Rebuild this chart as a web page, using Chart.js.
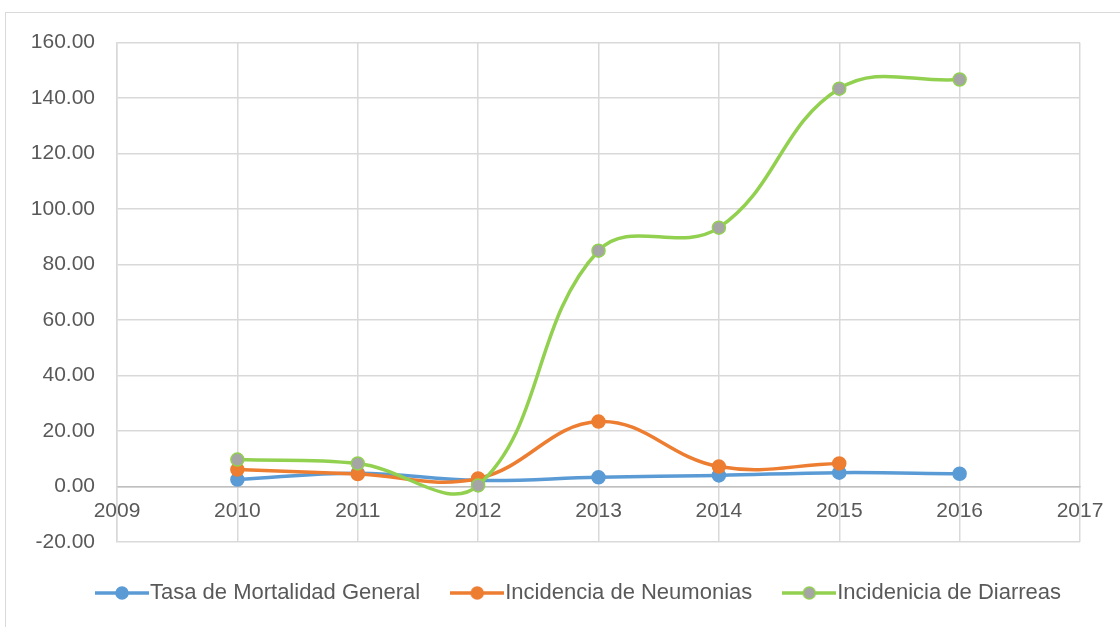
<!DOCTYPE html>
<html>
<head>
<meta charset="utf-8">
<script src="https://cdn.jsdelivr.net/npm/chart.js@4.4.0/dist/chart.umd.min.js"></script>
<style>
  html, body { margin: 0; padding: 0; background: #fff; }
  #wrap {
    position: absolute; left: 5px; top: 12px; width: 1115px; height: 615px;
    border-left: 1px solid #d9d9d9; border-top: 1px solid #d9d9d9;
  }
  #myChart { position: absolute; left: 0; top: -5px; }
</style>
</head>
<body>
<div id="wrap"><canvas id="myChart" width="1114" height="619"></canvas></div>
<script>
// years on the x axis
var anni = [2010, 2011, 2012, 2013, 2014, 2015, 2016];
// Tasa de Mortalidad General
var mortalidad = [2.5, 4.8, 2.2, 3.3, 4.0, 5.0, 4.6];
// Incidencia de Neumonias (no 2016 value)
var neumonias = [6.1, 4.5, 2.9, 23.4, 7.2, 8.3];
// Incidenicia de Diarreas
var diarreas = [9.7, 8.3, 0.4, 85.0, 93.3, 143.4, 146.7];

var nomi = ["Tasa de Mortalidad General", "Incidencia de Neumonias", "Incidenicia de Diarreas"];

function iconaLegenda(line, fill) {
  var c = document.createElement("canvas");
  c.width = 54; c.height = 16;
  var g = c.getContext("2d");
  g.strokeStyle = line;
  g.lineWidth = 3.5;
  g.beginPath(); g.moveTo(0, 8); g.lineTo(54, 8); g.stroke();
  g.beginPath(); g.arc(27, 8, 6, 0, Math.PI * 2);
  g.fillStyle = fill; g.fill();
  g.lineWidth = 1.5; g.stroke();
  return c;
}

// legend sits a bit right of the canvas centre in the original
var spostaLegenda = {
  id: "spostaLegenda",
  afterLayout: function (ch) {
    ch.legend.left += 40;
    ch.legend.right += 40;
  }
};

function init() {
  var font = "'Liberation Sans', Arial, sans-serif";
  var grigio = "#595959";
  var ctx = document.getElementById("myChart");
  var chart = new Chart(ctx, {
    type: "line",
    data: {
      labels: anni,
      datasets: [{
        label: nomi[0],
        data: mortalidad,
        borderColor: "#5b9bd5",
        backgroundColor: "#5b9bd5",
        pointBorderColor: "#5b9bd5",
        order: 3,
        _fill: "#5b9bd5"
      }, {
        label: nomi[1],
        data: neumonias,
        borderColor: "#ed7d31",
        backgroundColor: "#ed7d31",
        pointBorderColor: "#ed7d31",
        order: 2,
        _fill: "#ed7d31"
      }, {
        label: nomi[2],
        data: diarreas,
        borderColor: "#92d050",
        backgroundColor: "#a5a5a5",
        pointBorderColor: "#92d050",
        order: 1,
        _fill: "#a5a5a5"
      }]
    },
    plugins: [spostaLegenda],
    options: {
      responsive: false,
      animation: false,
      layout: { padding: { left: 0, right: 40, top: 24, bottom: 13 } },
      elements: {
        line: { borderWidth: 3.5, tension: 0.4, fill: false },
        point: { radius: 6.5, borderWidth: 1.5, hoverRadius: 6.5 }
      },
      scales: {
        x: {
          type: "linear",
          min: 2009,
          max: 2017,
          position: { y: 0 },
          afterFit: function (s) { s.height = 0; },
          ticks: {
            stepSize: 1,
            color: grigio,
            padding: 12,
            font: { family: font, size: 21 },
            callback: function (v) { return String(v); }
          },
          grid: { color: "#d9d9d9", lineWidth: 1.5, drawTicks: false },
          border: { color: "#bfbfbf", width: 1.5 }
        },
        y: {
          min: -20,
          max: 160,
          afterFit: function (s) { s.width = 111; },
          ticks: {
            stepSize: 20,
            color: grigio,
            padding: 22,
            font: { family: font, size: 21 },
            callback: function (v) { return v.toFixed(2); }
          },
          grid: { color: "#d9d9d9", lineWidth: 1.5, drawTicks: false },
          border: { color: "#d9d9d9", width: 1.5 }
        }
      },
      plugins: {
        tooltip: { enabled: false },
        legend: {
          position: "bottom",
          labels: {
            usePointStyle: true,
            pointStyleWidth: 34,
            boxHeight: 16,
            padding: 40,
            color: grigio,
            font: { family: font, size: 22 },
            generateLabels: function (ch) {
              return ch.data.datasets.map(function (d, i) {
                return {
                  text: d.label,
                  datasetIndex: i,
                  pointStyle: iconaLegenda(d.borderColor, d._fill),
                  fontColor: grigio,
                  strokeStyle: d.borderColor,
                  fillStyle: d._fill,
                  lineWidth: 0
                };
              });
            }
          }
        }
      }
    }
  });
}

init();
</script>
</body>
</html>
